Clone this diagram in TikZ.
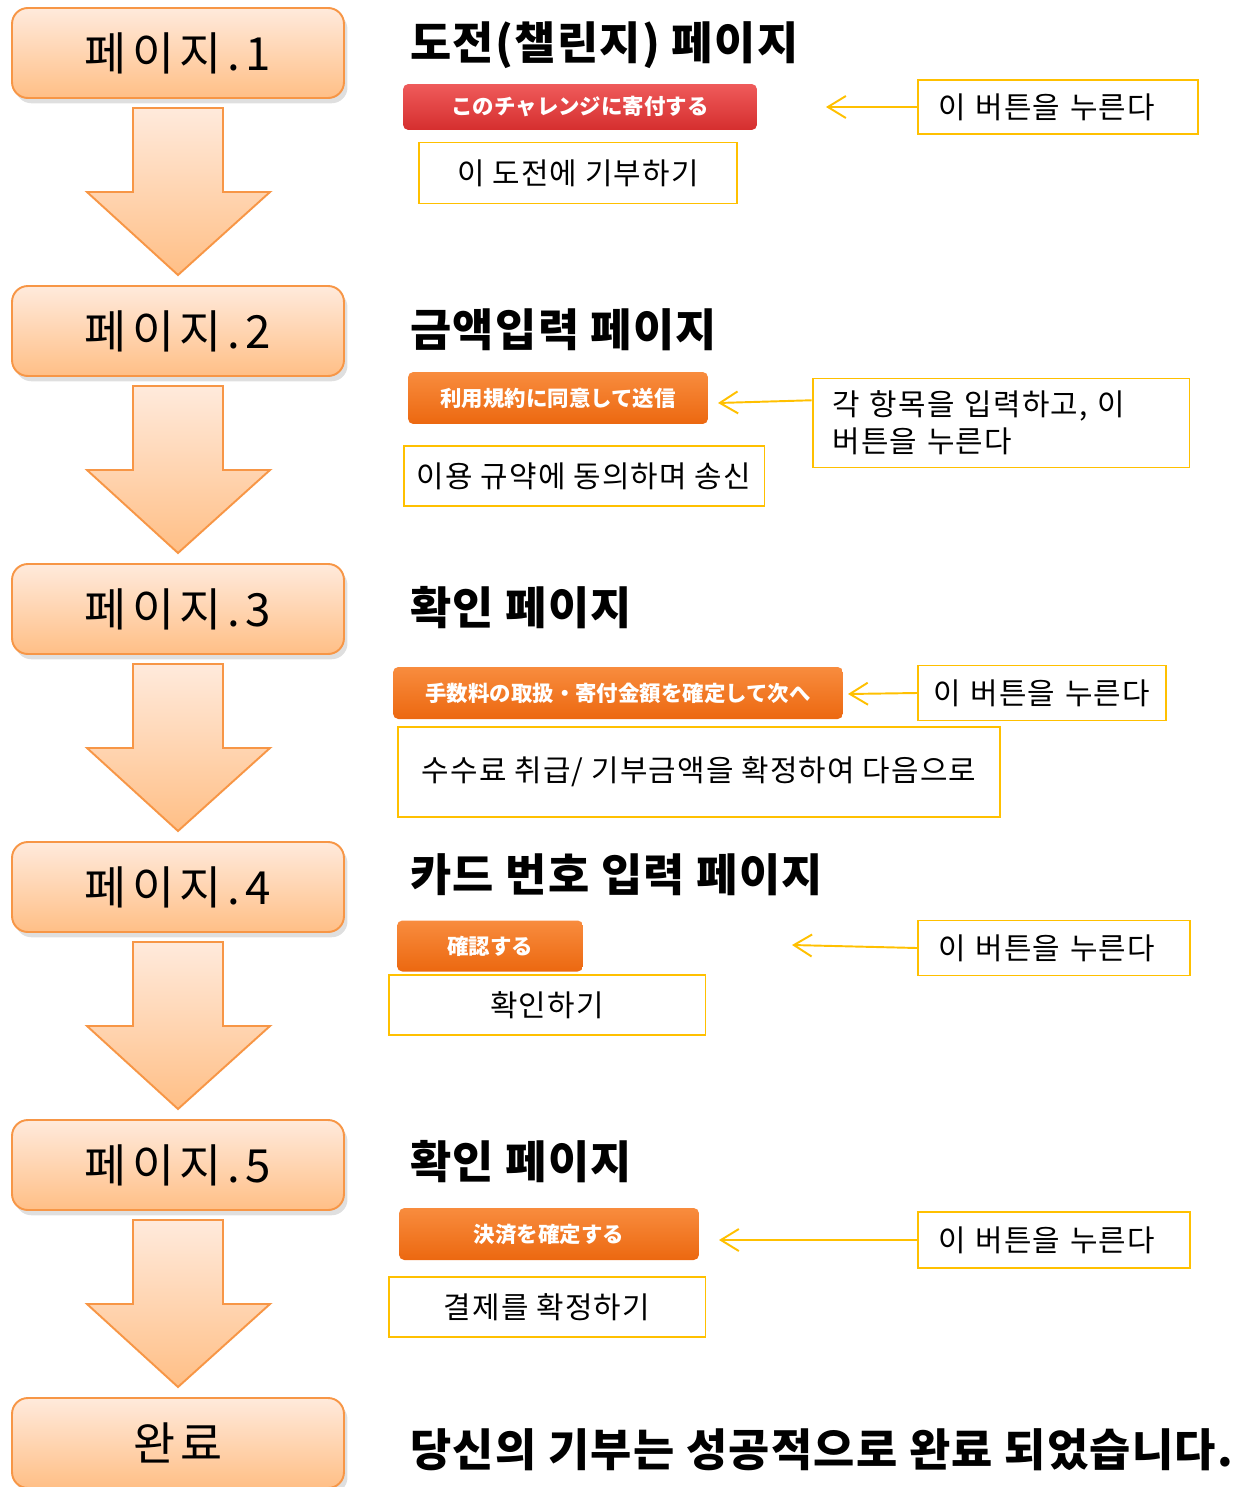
\documentclass[tikz,border=0pt]{standalone}
\usepackage{fontspec}
\setmainfont{Noto Sans CJK KR}
\newfontfamily\jpfont{Noto Sans CJK JP}
\usepackage{xcolor}
\usetikzlibrary{arrows.meta, positioning, shadows, calc}

\definecolor{pageline}{HTML}{F79646}
\definecolor{pagetop}{HTML}{FFEADC}
\definecolor{pagebot}{HTML}{FFBF86}
\definecolor{redtop}{HTML}{EF5B5B}
\definecolor{redbot}{HTML}{D52E2E}
\definecolor{orgtop}{HTML}{F88C3E}
\definecolor{orgbot}{HTML}{EC6810}
\definecolor{giallo}{HTML}{FFC000}

\tikzset{
  pagebox/.style={draw=pageline, line width=1.1pt, rounded corners=9pt,
    top color=pagetop, bottom color=pagebot,
    minimum width=6.64cm, minimum height=1.8cm,
    drop shadow={opacity=0.25, shadow xshift=2pt, shadow yshift=-3pt},
    font=\fontsize{26}{30}\selectfont\addfontfeature{LetterSpace=12}},
  giu/.style={draw=pageline, line width=1.1pt, top color=pagetop, bottom color=pagebot},
  titolo/.style={anchor=west, inner sep=0pt,
    font=\fontsize{25.5}{30}\selectfont\bfseries\addfontfeature{LetterSpace=3}},
  bottone/.style={rounded corners=3pt, top color=orgtop, bottom color=orgbot,
    text=white, inner sep=0pt, font=\jpfont\fontsize{12.2}{14}\selectfont\bfseries},
  bottonerosso/.style={bottone, top color=redtop, bottom color=redbot},
  traduz/.style={draw=giallo, line width=1.1pt, inner sep=0pt,
    font=\fontsize{17}{21}\selectfont\addfontfeature{LetterSpace=4}},
  nota/.style={traduz, align=left, inner xsep=0.4cm},
  freccia/.style={draw=giallo, line width=1.1pt, -{Straight Barb[length=0.36cm, width=0.44cm]}}
}

\begin{document}
\begin{tikzpicture}[x=0.02cm, y=-0.02cm]
    % Parametri
    \pgfmathsetmacro{\passo}{278}
    \useasboundingbox (0,0) rectangle (1252,1487);
    \clip (0,0) rectangle (1252,1487);

    % Frecce verso il basso
    \foreach \i in {0,...,4}{
        \begin{scope}[yshift={-\i*\passo*0.02cm}]
            \draw[giu] (133,108) -- (223,108) -- (223,192) -- (270,192) -- (178,275) -- (87,192) -- (133,192) -- cycle;
        \end{scope}
    }

    % Pagine
    \foreach \n [count=\i from 0] in {1,...,5}{
        \node[pagebox] (p\n) at (178,{53+\i*\passo}) {페이지.\n};
    }
    \node[pagebox] (fine) at (178,1443) {완료};

    % Titoli
    \node[titolo] (h1) at (410,45) {도전(챌린지) 페이지};
    \node[titolo] (h2) at (410,330) {금액입력 페이지};
    \node[titolo] (h3) at (410,608) {확인 페이지};
    \node[titolo] (h4) at (410,875) {카드 번호 입력 페이지};
    \node[titolo] (h5) at (410,1162) {확인 페이지};
    \node[titolo] (h6) at (410,1450) {당신의 기부는 성공적으로 완료 되었습니다.};

    % Bottoni
    \node[bottonerosso, minimum width=7.08cm, minimum height=0.92cm] (b1) at (580,107) {このチャレンジに寄付する};
    \node[bottone, minimum width=6cm, minimum height=1.04cm] (b2) at (558,398) {利用規約に同意して送信};
    \node[bottone, minimum width=9cm, minimum height=1.04cm] (b3) at (618,693) {手数料の取扱・寄付金額を確定して次へ};
    \node[bottone, minimum width=3.72cm, minimum height=1.02cm] (b4) at (490,946) {確認する};
    \node[bottone, minimum width=6cm, minimum height=1.04cm] (b5) at (549,1234) {決済を確定する};

    % Traduzioni
    \node[traduz, minimum width=6.36cm, minimum height=1.22cm] (t1) at (578,173) {이 도전에 기부하기};
    \node[traduz, minimum width=7.22cm, minimum height=1.2cm] (t2) at (584,476) {이용 규약에 동의하며 송신};
    \node[traduz, minimum width=12.06cm, minimum height=1.8cm] (t3) at (699,772) {수수료 취급/ 기부금액을 확정하여 다음으로};
    \node[traduz, minimum width=6.34cm, minimum height=1.2cm] (t4) at (547,1005) {확인하기};
    \node[traduz, minimum width=6.34cm, minimum height=1.2cm] (t5) at (547,1307) {결제를 확정하기};

    % Note
    \node[nota, text width=4.8cm, minimum height=1.08cm] (n1) at (1058,107) {이 버튼을 누른다};
    \node[nota, text width=6.74cm, minimum height=1.78cm] (n2) at (1001,423) {각 항목을 입력하고, 이\\버튼을 누른다};
    \node[nota, inner xsep=0.3cm, text width=4.36cm, minimum height=1.1cm] (n3) at (1042,693) {이 버튼을 누른다};
    \node[nota, text width=4.64cm, minimum height=1.1cm] (n4) at (1054,948) {이 버튼을 누른다};
    \node[nota, text width=4.64cm, minimum height=1.12cm] (n5) at (1054,1240) {이 버튼을 누른다};

    % Frecce gialle
    \coordinate (a1) at (826,107);
    \coordinate (a2) at (718,403);
    \coordinate (a3) at (848,694);
    \coordinate (a4) at (792,945);
    \coordinate (a5) at (719,1240);
    \draw[freccia] (n1.west) -- (a1);
    \draw[freccia] ($(n2.north west)!0.25!(n2.south west)$) -- (a2);
    \draw[freccia] (n3.west) -- (a3);
    \draw[freccia] (n4.west) -- (a4);
    \draw[freccia] (n5.west) -- (a5);
\end{tikzpicture}
\end{document}
